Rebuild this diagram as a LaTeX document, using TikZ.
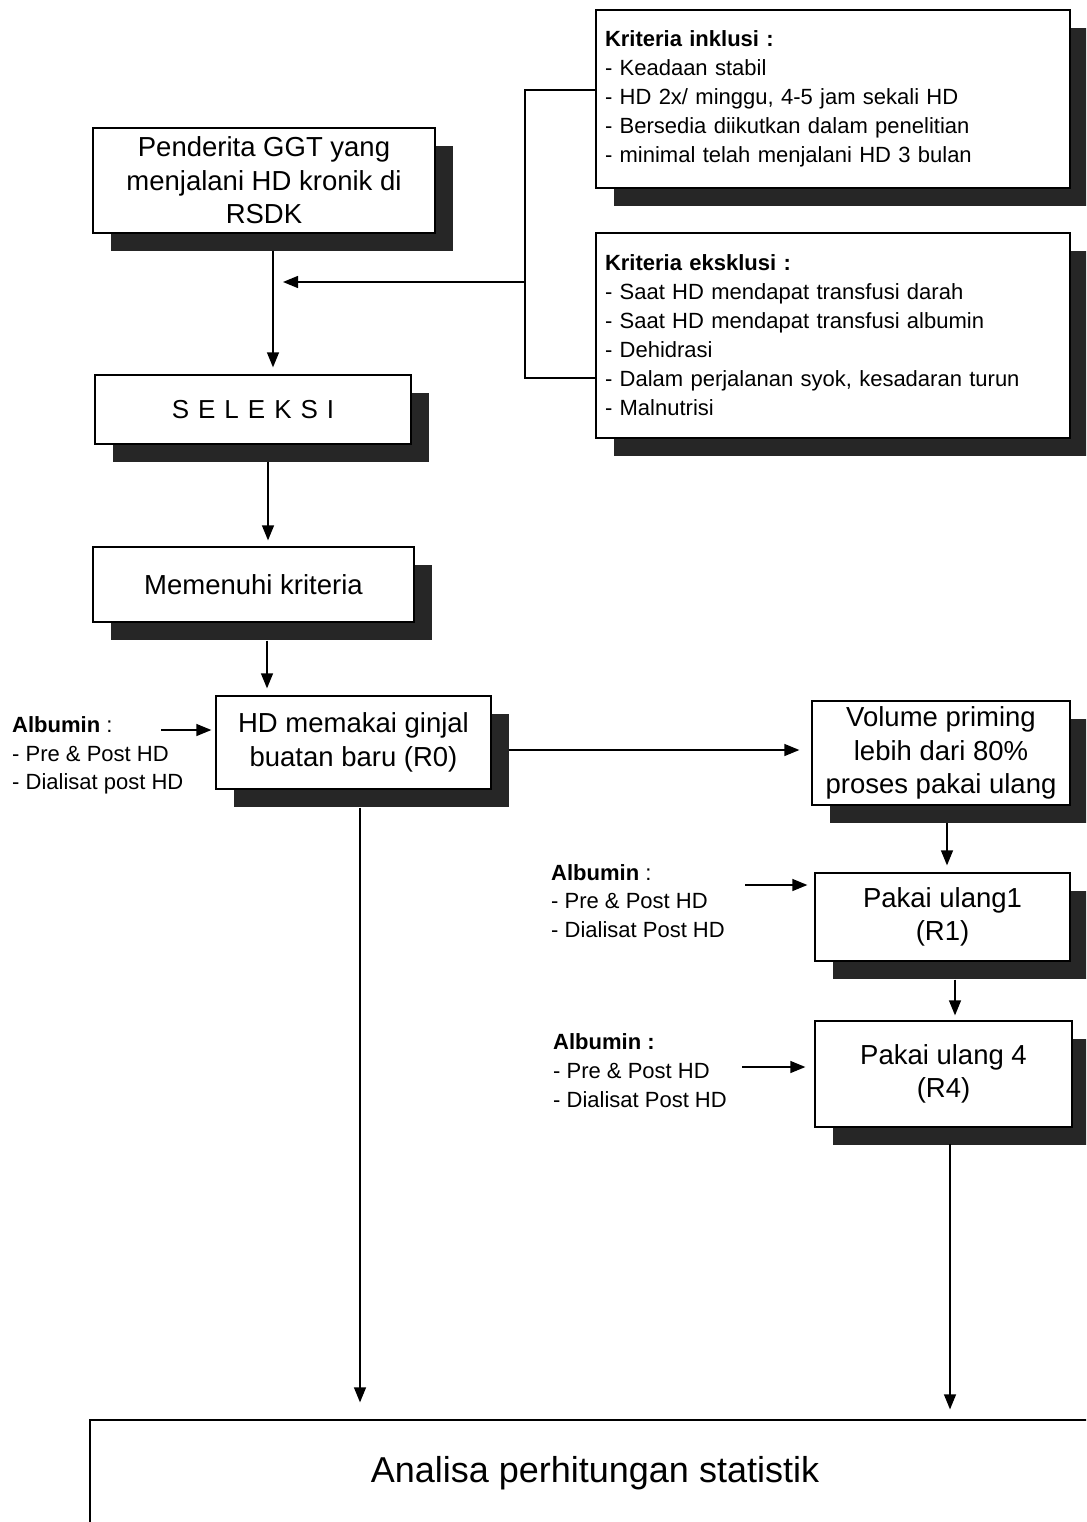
\documentclass[tikz,border=0pt]{standalone}
\usepackage{fontspec}
\setmainfont{Liberation Sans}
\usetikzlibrary{arrows.meta,shadows}
\begin{document}
\begin{tikzpicture}[x=1pt,y=-1pt,
  box/.style={draw, line width=1.3pt, fill=white, inner sep=0pt,
    general shadow={shadow xshift=18pt, shadow yshift=-18pt, fill=black!85}},
  bigtxt/.style={font=\fontsize{27.5}{33.5}\selectfont, align=center},
  crit/.style={box, font=\fontsize{22}{29}\selectfont, align=left, text width=456pt, inner xsep=9pt},
  lbl/.style={font=\fontsize{22}{28.8}\selectfont, align=left, inner sep=0pt, anchor=west},
  arr/.style={line width=1.3pt, -{Triangle[length=15pt,width=12pt]}},
  ln/.style={line width=1.3pt}]
\useasboundingbox (0,0) rectangle (1086,1522);
\clip (0,0) rectangle (1086,1522);
\fill[white] (0,0) rectangle (1086,1522);

\node[box,bigtxt,minimum width=342pt,minimum height=105pt] (pend) at (264,180.5) {Penderita GGT yang\\menjalani HD kronik di\\RSDK};
\node[crit,minimum height=178pt] (inkl) at (833,99) {\textbf{Kriteria inklusi :}\\- Keadaan stabil\\- HD 2x/ minggu, 4-5 jam sekali HD\\- Bersedia diikutkan dalam penelitian\\- minimal telah menjalani HD 3 bulan};
\node[crit,minimum height=205pt] (eksk) at (833,335.5) {\textbf{Kriteria eksklusi :}\\- Saat HD mendapat transfusi darah\\- Saat HD mendapat transfusi albumin\\- Dehidrasi\\- Dalam perjalanan syok, kesadaran turun\\- Malnutrisi};
\node[box,minimum width=316pt,minimum height=69pt,font=\fontsize{26}{30}\selectfont] (sel) at (253,409.5) {S\kern9pt E\kern9pt L\kern9pt E\kern9pt K\kern9pt S\kern9pt I};
\node[box,bigtxt,minimum width=321pt,minimum height=75pt] (mem) at (253.5,584.5) {Memenuhi kriteria};
\node[box,bigtxt,minimum width=275pt,minimum height=93pt] (hd) at (353.5,742.5) {HD memakai ginjal\\buatan baru (R0)};
\node[box,bigtxt,minimum width=258pt,minimum height=104pt] (vol) at (941,753) {Volume priming\\lebih dari 80\%\\proses pakai ulang};
\node[box,bigtxt,minimum width=255pt,minimum height=88pt] (p1) at (942.5,917) {Pakai ulang1\\(R1)};
\node[box,bigtxt,minimum width=257pt,minimum height=106pt] (p4) at (943.5,1074) {Pakai ulang 4\\(R4)};
\node[draw,line width=1.3pt,minimum width=1010pt,minimum height=106pt,font=\fontsize{36}{40}\selectfont] (ana) at (595,1473) {Analisa perhitungan statistik};

\node[lbl] (a0) at (12,755.5) {\textbf{Albumin} :\\- Pre \& Post HD\\- Dialisat post HD};
\node[lbl] (a1) at (551,901) {\textbf{Albumin} :\\- Pre \& Post HD\\- Dialisat Post HD};
\node[lbl] (a2) at (553,1070.5) {\textbf{Albumin :}\\- Pre \& Post HD\\- Dialisat Post HD};

\coordinate (bk) at (525,282);
\coordinate (bktip) at (283,282);
\draw[ln] ([yshift=9pt]inkl.west) -| (bk) |- ([yshift=-42.5pt]eksk.west);
\draw[arr] (bk) -- (bktip);

\draw[arr] ([xshift=9pt,yshift=-17pt]pend.south) -- ([xshift=20pt,yshift=7pt]sel.north);
\draw[arr] ([xshift=15pt,yshift=-17pt]sel.south) -- ([xshift=14.5pt,yshift=6pt]mem.north);
\draw[arr] ([xshift=13.5pt,yshift=-18pt]mem.south) -- ([xshift=-86.5pt,yshift=7pt]hd.north);
\draw[arr] ([xshift=17pt,yshift=-7.5pt]hd.east) -- ([xshift=-12pt,yshift=3pt]vol.west);
\draw[arr] ([xshift=6.5pt,yshift=-18pt]hd.south) -- ([xshift=-235pt,yshift=17pt]ana.north);
\draw[arr] ([xshift=6pt,yshift=-17pt]vol.south) -- ([xshift=4.5pt,yshift=7pt]p1.north);
\draw[arr] ([xshift=12.5pt,yshift=-18pt]p1.south) -- ([xshift=11.5pt,yshift=5pt]p4.north);
\draw[arr] ([xshift=6.5pt,yshift=-16pt]p4.south) -- ([xshift=355pt,yshift=10pt]ana.north);

\draw[arr] ([xshift=-54pt,yshift=12.5pt]hd.west) -- ([xshift=-4pt,yshift=12.5pt]hd.west);
\draw[arr] ([xshift=-69pt,yshift=32pt]p1.west) -- ([xshift=-7pt,yshift=32pt]p1.west);
\draw[arr] ([xshift=-72pt,yshift=7pt]p4.west) -- ([xshift=-9pt,yshift=7pt]p4.west);
\end{tikzpicture}
\end{document}
